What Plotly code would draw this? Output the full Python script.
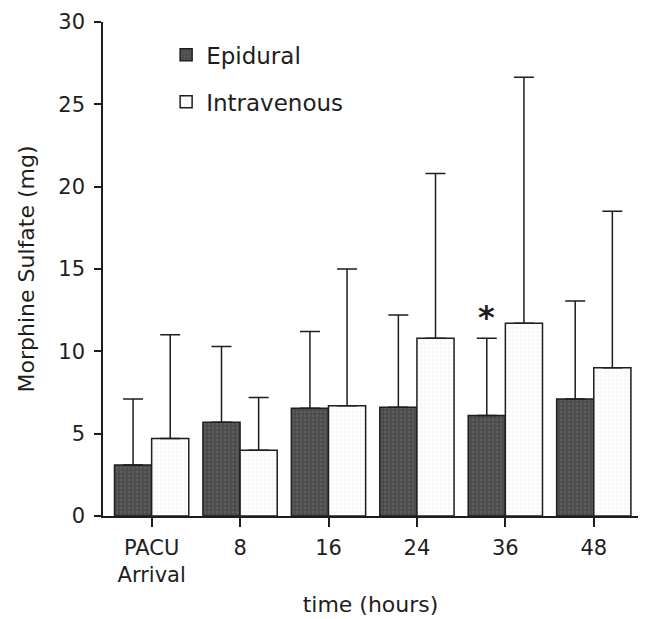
import plotly.graph_objects as go

categories = ["PACU<br>Arrival", "8", "16", "24", "36", "48"]
epidural_mean = [3.1, 5.7, 6.55, 6.6, 6.1, 7.1]
epidural_top = [7.1, 10.3, 11.2, 12.2, 10.8, 13.05]
iv_mean = [4.7, 4.0, 6.7, 10.8, 11.7, 9.0]
iv_top = [11.0, 7.2, 15.0, 20.8, 26.65, 18.5]
y_ticks = [0, 5, 10, 15, 20, 25, 30]
star_category = "36"

FONT = "DejaVu Sans, Arial, Helvetica, sans-serif"
INK = "#1e1e1e"

fig = go.Figure()
fig.add_trace(go.Bar(
    name="Epidural", x=categories, y=epidural_mean, legendgroup="epi",
    marker=dict(color="#4f4f4f", line=dict(color=INK, width=1.5),
                pattern=dict(shape=".", fgcolor="#707070", bgcolor="#4c4c4c", size=4, solidity=0.3)),
    error_y=dict(type="data", symmetric=False,
                 array=[t - m for t, m in zip(epidural_top, epidural_mean)],
                 arrayminus=[0] * len(epidural_mean),
                 color=INK, thickness=1.5, width=10),
))
fig.add_trace(go.Bar(
    name="Intravenous", x=categories, y=iv_mean, legendgroup="iv",
    marker=dict(color="white", line=dict(color=INK, width=1.5),
                pattern=dict(shape="+", fgcolor="#c8c8c8", bgcolor="white", size=4, solidity=0.15)),
    error_y=dict(type="data", symmetric=False,
                 array=[t - m for t, m in zip(iv_top, iv_mean)],
                 arrayminus=[0] * len(iv_mean),
                 color=INK, thickness=1.5, width=10),
))

si = categories.index(star_category)
fig.add_annotation(x=si, y=epidural_top[si], text="<b>*</b>", showarrow=False,
                   xref="x", yref="y",
                   xshift=-18.5, yshift=21, yanchor="middle", xanchor="center",
                   font=dict(family=FONT, size=32, color=INK))

fig.update_layout(
    width=649, height=619,
    margin=dict(l=103, r=11, t=22, b=103),
    paper_bgcolor="white", plot_bgcolor="white",
    barmode="group", bargap=0.16, bargroupgap=0,
    font=dict(family=FONT, size=21, color=INK),
    showlegend=True,
    legend=dict(x=0.118, y=0.977, xanchor="left", yanchor="top",
                font=dict(family=FONT, size=23, color=INK),
                bgcolor="rgba(0,0,0,0)", tracegroupgap=14, traceorder="grouped"),
    xaxis=dict(range=[-0.55, 5.5], showline=True, linecolor=INK, linewidth=1.5,
               ticks="outside", ticklen=9, tickwidth=1.5, tickcolor=INK,
               ticklabelstandoff=3, automargin=False,
               showgrid=False, zeroline=False,
               tickfont=dict(family=FONT, size=21, color=INK),
               title=dict(text="time (hours)", font=dict(family=FONT, size=22, color=INK), standoff=10)),
    yaxis=dict(range=[0, 30], tickvals=y_ticks, showline=True, linecolor=INK, linewidth=1.5,
               ticks="outside", ticklen=7, tickwidth=1.5, tickcolor=INK,
               ticklabelstandoff=5, automargin=False,
               showgrid=False, zeroline=False,
               tickfont=dict(family=FONT, size=21, color=INK),
               title=dict(text="Morphine Sulfate (mg)", font=dict(family=FONT, size=22, color=INK), standoff=18)),
)

fig.write_html("out.html")
